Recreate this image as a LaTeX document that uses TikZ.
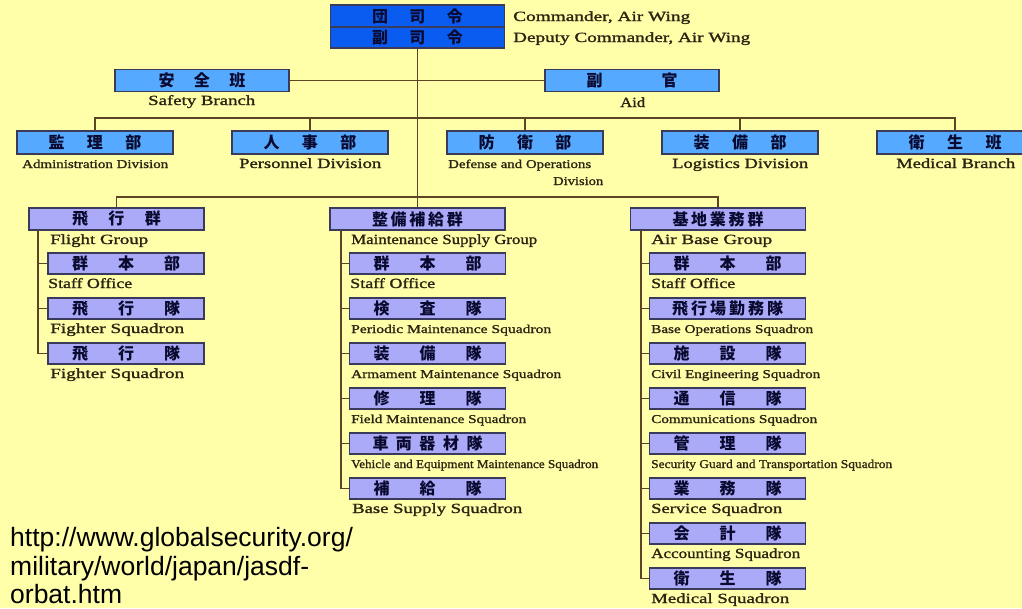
\documentclass[tikz,border=0pt]{standalone}
\usepackage{fontspec}
\usepackage{graphicx}
\setmainfont{Liberation Serif}
\newfontfamily\labfont[FakeBold=1.2]{Liberation Serif}
\newfontfamily\jpfont{Noto Sans CJK JP}
\newfontfamily\urlfont{Liberation Sans}
\definecolor{bgc}{HTML}{FFFFAA}
\definecolor{cmdblue}{HTML}{0A5CF0}
\definecolor{lblue}{HTML}{55AAFF}
\definecolor{lav}{HTML}{AAAAF8}
\definecolor{bordc}{HTML}{3A3A5A}
\definecolor{jpc}{HTML}{0A0A30}
\definecolor{labc}{HTML}{2A2410}
\definecolor{linec}{HTML}{5E4426}
\newcommand\jps[2]{\makebox[#1][s]{#2}}
\newcommand\lbl[2]{\resizebox{#1}{\height}{#2}}
\tikzset{
  box/.style={draw=bordc, line width=1.2pt, inner sep=0pt, text=jpc,
    font=\jpfont\bfseries\fontsize{16}{16}\selectfont},
  cmdbox/.style={box, fill=cmdblue, minimum width=174pt},
  topbox/.style={box, fill=lblue, minimum width=174pt, minimum height=22pt},
  divbox/.style={box, fill=lblue, minimum width=156pt, minimum height=23pt},
  grpbox/.style={box, fill=lav, minimum width=175pt, minimum height=22pt},
  subbox/.style={box, fill=lav, minimum width=156pt, minimum height=21pt},
  lab/.style={anchor=base west, inner sep=0pt, text=labc, font=\labfont\fontsize{14}{14}\selectfont},
  slab/.style={lab, font=\labfont\fontsize{12}{12}\selectfont},
  urltext/.style={anchor=base west, inner sep=0pt, text=black, font=\urlfont\fontsize{26.5}{26.5}\selectfont},
  conn/.style={draw=linec, line width=1.4pt},
}
\begin{document}
\begin{tikzpicture}[x=1pt, y=-1pt]
\useasboundingbox (0,0) rectangle (1022,608);
\fill[bgc] (0,0) rectangle (1022,608);
\clip (0,0) rectangle (1022,608);

\coordinate (dl) at (417.5,118);
\coordinate (gl) at (417.5,197);
\coordinate (fgb) at (38,230);
\coordinate (mgb) at (341,230);
\coordinate (abb) at (641,230);

% ---- boxes ----
\node[cmdbox, minimum height=22pt] (cmdA) at (417.5,16) {\jps{91pt}{団\hfill 司\hfill 令}};
\node[cmdbox, minimum height=21pt] (cmdB) at (417.5,37.5) {\jps{91pt}{副\hfill 司\hfill 令}};
\node[topbox] (safe) at (202,80.5) {\jps{87pt}{安\hfill 全\hfill 班}};
\node[topbox] (aid) at (632,80.5) {\jps{91pt}{副\hfill 官}};

\node[divbox] (adm) at (95,142.5) {\jps{93pt}{監\hfill 理\hfill 部}};
\node[divbox] (pers) at (310,142.5) {\jps{93pt}{人\hfill 事\hfill 部}};
\node[divbox] (def) at (525,142.5) {\jps{93pt}{防\hfill 衛\hfill 部}};
\node[divbox] (logi) at (740,142.5) {\jps{93pt}{装\hfill 備\hfill 部}};
\node[divbox] (medb) at (955,142.5) {\jps{93pt}{衛\hfill 生\hfill 班}};

\node[grpbox] (fg) at (116.5,219) {\jps{89pt}{飛\hfill 行\hfill 群}};
\node[grpbox] (mg) at (417.5,219) {\jps{91pt}{整\hfill 備\hfill 補\hfill 給\hfill 群}};
\node[grpbox] (ab) at (718,219) {\jps{91pt}{基\hfill 地\hfill 業\hfill 務\hfill 群}};

\node[subbox] (fg1) at (126,263.5) {\jps{108pt}{群\hfill 本\hfill 部}};
\node[subbox] (fg2) at (126,308.5) {\jps{108pt}{飛\hfill 行\hfill 隊}};
\node[subbox] (fg3) at (126,353.5) {\jps{108pt}{飛\hfill 行\hfill 隊}};

\node[subbox] (mg1) at (427.5,263.5) {\jps{108pt}{群\hfill 本\hfill 部}};
\node[subbox] (mg2) at (427.5,308.5) {\jps{108pt}{検\hfill 査\hfill 隊}};
\node[subbox] (mg3) at (427.5,353.5) {\jps{108pt}{装\hfill 備\hfill 隊}};
\node[subbox] (mg4) at (427.5,398.5) {\jps{108pt}{修\hfill 理\hfill 隊}};
\node[subbox] (mg5) at (427.5,443.5) {\jps{110pt}{車\hfill 両\hfill 器\hfill 材\hfill 隊}};
\node[subbox] (mg6) at (427.5,488.5) {\jps{108pt}{補\hfill 給\hfill 隊}};

\node[subbox] (ab1) at (727.5,263.5) {\jps{108pt}{群\hfill 本\hfill 部}};
\node[subbox] (ab2) at (727.5,308.5) {\jps{111pt}{飛\hfill 行\hfill 場\hfill 勤\hfill 務\hfill 隊}};
\node[subbox] (ab3) at (727.5,353.5) {\jps{108pt}{施\hfill 設\hfill 隊}};
\node[subbox] (ab4) at (727.5,398.5) {\jps{108pt}{通\hfill 信\hfill 隊}};
\node[subbox] (ab5) at (727.5,443.5) {\jps{108pt}{管\hfill 理\hfill 隊}};
\node[subbox] (ab6) at (727.5,488.5) {\jps{108pt}{業\hfill 務\hfill 隊}};
\node[subbox] (ab7) at (727.5,533.5) {\jps{108pt}{会\hfill 計\hfill 隊}};
\node[subbox] (ab8) at (727.5,578.5) {\jps{108pt}{衛\hfill 生\hfill 隊}};

% ---- connectors ----
\draw[conn] (cmdB.south) -- (mg.north);
\draw[conn] (safe.east) -- (aid.west);
\draw[conn] (adm.north) |- (dl) -| (medb.north);
\foreach \n in {pers,def,logi} \draw[conn] (\n.north) -- (\n.north |- dl);
\draw[conn] (fg.north) |- (gl) -| (ab.north);

\draw[conn] (fgb) |- (fg3.west);
\foreach \i in {1,2} \draw[conn] (fgb |- fg\i.west) -- (fg\i.west);
\draw[conn] (mgb) |- (mg6.west);
\foreach \i in {1,...,5} \draw[conn] (mgb |- mg\i.west) -- (mg\i.west);
\draw[conn] (abb) |- (ab8.west);
\foreach \i in {1,...,7} \draw[conn] (abb |- ab\i.west) -- (ab\i.west);

% ---- labels ----
\node[lab] (tcmd) at (513,21) {\lbl{177pt}{Commander, Air Wing}};
\node[lab] (tdep) at (513,42) {\lbl{237pt}{Deputy Commander, Air Wing}};
\node[lab] (tsafe) at (148,105) {\lbl{107pt}{Safety Branch}};
\node[lab] (taid) at (620,107) {\lbl{25pt}{Aid}};

\node[slab] (tadm) at (22,168) {\lbl{146pt}{Administration Division}};
\node[lab] (tpers) at (239,168) {\lbl{142pt}{Personnel Division}};
\node[slab] (tdef) at (448,168) {\lbl{143pt}{Defense and Operations}};
\node[slab] (tdef2) at (553,185) {\lbl{50pt}{Division}};
\node[lab] (tlogi) at (672,168) {\lbl{136pt}{Logistics Division}};
\node[lab] (tmedb) at (896,168) {\lbl{119pt}{Medical Branch}};

\node[lab] (tfg) at (50,244) {\lbl{98pt}{Flight Group}};
\node[lab] (tfg1) at (48,288) {\lbl{84pt}{Staff Office}};
\node[lab] (tfg2) at (50,333) {\lbl{134pt}{Fighter Squadron}};
\node[lab] (tfg3) at (50,378) {\lbl{134pt}{Fighter Squadron}};

\node[lab] (tmg) at (351,244) {\lbl{186pt}{Maintenance Supply Group}};
\node[lab] (tmg1) at (350,288) {\lbl{85pt}{Staff Office}};
\node[slab] (tmg2) at (351,333) {\lbl{200pt}{Periodic Maintenance Squadron}};
\node[slab] (tmg3) at (351,378) {\lbl{210pt}{Armament Maintenance Squadron}};
\node[slab] (tmg4) at (351,423) {\lbl{175pt}{Field Maintenance Squadron}};
\node[slab] (tmg5) at (351,468) {\lbl{247pt}{Vehicle and Equipment Maintenance Squadron}};
\node[lab] (tmg6) at (352,513) {\lbl{170pt}{Base Supply Squadron}};

\node[lab] (tab) at (651,244) {\lbl{121pt}{Air Base Group}};
\node[lab] (tab1) at (651,288) {\lbl{84pt}{Staff Office}};
\node[slab] (tab2) at (651,333) {\lbl{162pt}{Base Operations Squadron}};
\node[slab] (tab3) at (651,378) {\lbl{169pt}{Civil Engineering Squadron}};
\node[slab] (tab4) at (651,423) {\lbl{166pt}{Communications Squadron}};
\node[slab] (tab5) at (651,468) {\lbl{241pt}{Security Guard and Transportation Squadron}};
\node[lab] (tab6) at (651,513) {\lbl{131pt}{Service Squadron}};
\node[lab] (tab7) at (651,558) {\lbl{149pt}{Accounting Squadron}};
\node[lab] (tab8) at (651,603) {\lbl{138pt}{Medical Squadron}};

\node[urltext] (u1) at (10,546) {http://www.globalsecurity.org/};
\node[urltext] (u2) at (10,575) {military/world/japan/jasdf-};
\node[urltext] (u3) at (10,603) {orbat.htm};
\end{tikzpicture}
\end{document}
